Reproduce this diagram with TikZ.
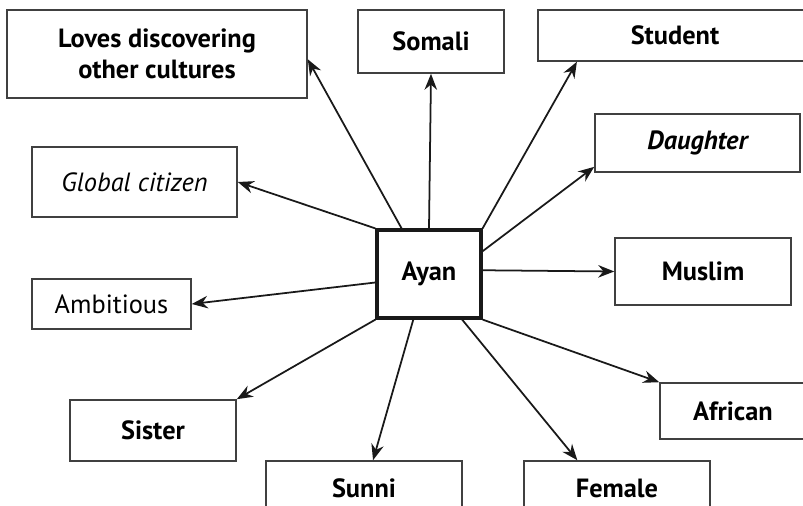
\documentclass[tikz,border=0pt]{standalone}
\usepackage{fontspec}
\setmainfont{PT Sans}
\usetikzlibrary{arrows.meta}
\begin{document}
\begin{tikzpicture}[x=0.02cm,y=-0.02cm,
        trait/.style={draw=black!75,rectangle,line width=0.9pt,inner sep=0pt,font=\fontsize{15}{18}\selectfont\bfseries},
        soft/.style={trait,font=\fontsize{15}{18}\selectfont},
        centre/.style={draw=black!90,rectangle,line width=1.8pt,inner sep=0pt,font=\fontsize{15}{18}\selectfont\bfseries},
        link/.style={-{Stealth[length=0.32cm,width=0.25cm]},line width=1pt,draw=black!90}
      ]
      \useasboundingbox (0,0) rectangle (803,506);
      \clip (0,0) rectangle (803,506);
      \node[centre,minimum width=2.08cm,minimum height=1.76cm] (ayan) at (429,274) {Ayan};
      \node[trait,minimum width=6cm,minimum height=1.76cm,align=center] (loves) at (157,54) {Loves discovering\\other cultures};
      \node[trait,minimum width=2.92cm,minimum height=1.26cm] (somali) at (431,41.5) {Somali};
      \node[trait,minimum width=5.48cm,minimum height=1.02cm] (student) at (675,35.5) {Student};
      \node[trait,minimum width=4.1cm,minimum height=1.16cm] (daughter) at (697.5,143) {\itshape Daughter};
      \node[soft,minimum width=4.1cm,minimum height=1.4cm] (global) at (134.5,182) {\itshape Global citizen};
      \node[trait,minimum width=3.52cm,minimum height=1.34cm] (muslim) at (703,271.5) {Muslim};
      \node[soft,minimum width=3.18cm,minimum height=1cm] (ambitious) at (111.5,304) {Ambitious};
      \node[trait,minimum width=3.32cm,minimum height=1.22cm] (sister) at (153,430.5) {Sister};
      \node[trait,minimum width=2.92cm,minimum height=1.12cm] (african) at (733,411) {African};
      \node[trait,minimum width=3.92cm,minimum height=1.08cm] (sunni) at (364,488) {Sunni};
      \node[trait,minimum width=3.72cm,minimum height=1.08cm] (female) at (617,488) {Female};
      % arrows out of the centre box
      \draw[link] (ayan.121) -- (loves.-2);
      \draw[link] (ayan.north) -- (somali.south);
      \draw[link] (ayan.north east) -- (student.195);
      \draw[link] (ayan.23) -- (daughter.193);
      \draw[link] (ayan.north west) -- (global.east);
      \draw[link] (ayan.4) -- (muslim.west);
      \draw[link] (ayan.189) -- (ambitious.east);
      \draw[link] (ayan.south west) -- (sister.north east);
      \draw[link] (ayan.251) -- (sunni.72);
      \draw[link] (ayan.306) -- (female.145);
      \draw[link] (ayan.south east) -- (african.north west);
    \end{tikzpicture}
\end{document}
